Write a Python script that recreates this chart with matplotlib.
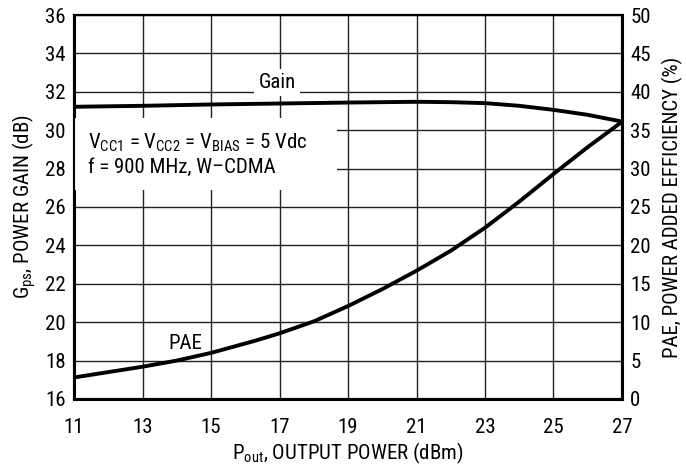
import matplotlib
matplotlib.use("Agg")
import matplotlib.pyplot as plt
from matplotlib import font_manager as fm
from matplotlib.patches import Rectangle

# pick a condensed sans font if one is installed
chosen_name, chosen_stretch = 'Liberation Sans', 'normal'
pref = ['Liberation Sans Narrow', 'Roboto Condensed', 'Open Sans Condensed', 'DejaVu Sans', 'Noto Sans', 'Roboto', 'Open Sans']
cands = []
for f in fm.fontManager.ttflist:
    st = str(f.stretch)
    is_cond = ('Narrow' in f.name) or ('Condensed' in f.name) or st in ('condensed', 'semi-condensed', '75', '87')
    if is_cond and f.style == 'normal' and str(f.weight) in ('400', 'normal', 'regular') and 'Mono' not in f.name and 'Serif' not in f.name:
        cands.append((f.name, st))
for p in pref:
    hit = [c for c in cands if c[0] == p]
    if hit:
        chosen_name, chosen_stretch = hit[0]
        break
else:
    if cands:
        chosen_name, chosen_stretch = cands[0]

plt.rcParams['font.family'] = [chosen_name, 'Liberation Sans', 'DejaVu Sans']
plt.rcParams['font.stretch'] = chosen_stretch
plt.rcParams['mathtext.fontset'] = 'custom'
spec = f'{chosen_name}:stretch={chosen_stretch}'
plt.rcParams['mathtext.rm'] = spec
plt.rcParams['mathtext.it'] = spec

# Data
pout_gain = [11, 13, 15, 17, 19, 21, 22, 23, 24, 25, 26, 27]
gain_db = [31.22, 31.27, 31.34, 31.39, 31.44, 31.48, 31.46, 31.41, 31.27, 31.06, 30.8, 30.45]

pout_pae = [11, 12, 13, 14, 15, 16.3, 17, 18, 19, 20, 21, 22, 23, 24, 25, 26, 27]
pae_pct = [2.8, 3.5, 4.2, 5.0, 6.0, 7.6, 8.55, 10.1, 12.1, 14.3, 16.7, 19.3, 22.3, 25.7, 29.3, 32.8, 36.1]

x_ticks = [11, 13, 15, 17, 19, 21, 23, 25, 27]
gain_ticks = [16, 18, 20, 22, 24, 26, 28, 30, 32, 34, 36]
pae_ticks = [0, 5, 10, 15, 20, 25, 30, 35, 40, 45, 50]

FS = 15

fig = plt.figure(figsize=(6.86, 4.72), dpi=100)
ax = fig.add_axes([0.1079, 0.1547, 0.9067 - 0.1079, 0.9682 - 0.1547])
ax2 = ax.twinx()

ax.set_xlim(11, 27)
ax.set_ylim(16, 36)
ax2.set_ylim(0, 50)
ax.set_xticks(x_ticks)
ax.set_yticks(gain_ticks)
ax2.set_yticks(pae_ticks)
ax.grid(True, color='#222222', linewidth=1.0)
ax.set_axisbelow(True)
for a in (ax, ax2):
    a.tick_params(length=0, labelsize=FS, pad=6)
    for s in a.spines.values():
        s.set_linewidth(1.5)
ax.tick_params(axis='x', pad=14)
ax.spines['left'].set_linewidth(2.2)
ax.spines['bottom'].set_linewidth(2.2)
ax2.spines['right'].set_linewidth(2.2)

ax.plot(pout_gain, gain_db, color='black', linewidth=2.8, solid_capstyle='butt', zorder=5)
ax2.plot(pout_pae, pae_pct, color='black', linewidth=2.8, solid_capstyle='butt', zorder=5)

ax.text(16.93, 32.5, 'Gain', fontsize=FS, ha='center', va='center',
        bbox=dict(facecolor='white', edgecolor='none', pad=3), zorder=4)
ax.text(14.26, 18.9, 'PAE', fontsize=FS, ha='center', va='center', zorder=4)

# white panel behind the conditions note
ax.add_patch(Rectangle((0.0, 0.544), 0.48, 0.188, transform=ax.transAxes,
                       facecolor='white', edgecolor='none', zorder=3))
ax.text(11.4, 28.75,
        r'V$_{\mathrm{CC1}}$ = V$_{\mathrm{CC2}}$ = V$_{\mathrm{BIAS}}$ = 5 Vdc' + '\n' + 'f = 900 MHz, W\u2013CDMA',
        fontsize=FS, ha='left', va='center', linespacing=1.3, zorder=4)

ax.set_xlabel(r'P$_{\mathrm{out}}$, OUTPUT POWER (dBm)', fontsize=FS, labelpad=2)
ax.set_ylabel(r'G$_{\mathrm{ps}}$, POWER GAIN (dB)', fontsize=FS, labelpad=5)
ax2.set_ylabel('PAE, POWER ADDED EFFICIENCY (%)', fontsize=FS, labelpad=8)

fig.savefig('out.png', dpi=100)
